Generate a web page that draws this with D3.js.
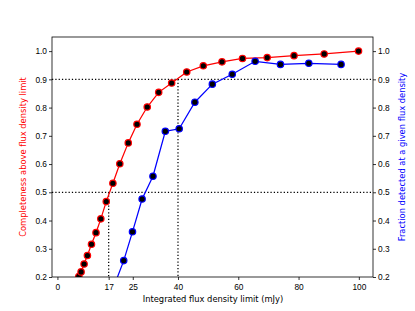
<!DOCTYPE html>
<html>
<head>
<meta charset="utf-8">
<script src="https://cdn.jsdelivr.net/npm/d3@7"></script>
<style>
    body { margin: 0; background: #fff; }
    svg { display: block; font-family: "DejaVu Sans", sans-serif; }
    .tick text { font-size: 8.33px; fill: #000; }
</style>
</head>
<body>
<div id="chart"></div>
<script>
// Completeness above flux density limit (red); first point sits below the axis
const completenessFlux = [5.8, 7.1, 7.85, 8.85, 9.95, 11.3, 12.8, 14.4, 16.2, 18.4, 20.7, 23.5, 26.4, 29.8, 33.6, 37.9, 42.9, 48.4, 54.6, 61.4, 69.6, 78.5, 88.5, 99.9];
const completenessValues = [0.17, 0.202, 0.218, 0.246, 0.276, 0.316, 0.357, 0.406, 0.467, 0.532, 0.601, 0.675, 0.741, 0.802, 0.854, 0.887, 0.926, 0.948, 0.962, 0.974, 0.977, 0.984, 0.99, 1.0];

// Fraction detected at a given flux density (blue); first point sits below the axis
const fractionFlux = [18.5, 22.0, 24.9, 28.1, 31.7, 35.8, 40.4, 45.6, 51.4, 58.0, 65.6, 74.0, 83.4, 94.1];
const fractionValues = [0.16, 0.258, 0.36, 0.476, 0.557, 0.716, 0.725, 0.819, 0.883, 0.918, 0.964, 0.953, 0.957, 0.953];

const xTicks = [0, 17, 25, 40, 60, 80, 100];
const yTicks = [0.2, 0.3, 0.4, 0.5, 0.6, 0.7, 0.8, 0.9, 1.0];

// reference guides: [flux, level]
const guideFlux = [17, 40];
const guideLevels = [0.5, 0.9];

const width = 415, height = 311;
const margin = { top: 37, right: 42, bottom: 34, left: 52 };
const innerW = width - margin.left - margin.right;
const innerH = height - margin.top - margin.bottom;

const svg = d3.select('#chart')
    .append('svg')
    .attr('width', width)
    .attr('height', height);

svg.append('defs').append('clipPath')
    .attr('id', 'plot-clip')
    .append('rect')
    .attr('width', innerW)
    .attr('height', innerH);

const g = svg.append('g')
    .attr('transform', `translate(${margin.left},${margin.top})`);

const x = d3.scaleLinear().domain([-1.8, 104.7]).range([0, innerW]);
const y = d3.scaleLinear().domain([0.2, 1.05]).range([innerH, 0]);

const plot = g.append('g').attr('clip-path', 'url(#plot-clip)');

// dotted guide lines
const dotted = '1.25,2.06';
guideLevels.forEach((lvl, i) => {
    plot.append('line')
        .attr('x1', 0).attr('x2', innerW)
        .attr('y1', y(lvl)).attr('y2', y(lvl))
        .attr('stroke', '#000').attr('stroke-width', 1.25)
        .attr('stroke-dasharray', dotted);
    plot.append('line')
        .attr('x1', x(guideFlux[i])).attr('x2', x(guideFlux[i]))
        .attr('y1', y(lvl)).attr('y2', innerH)
        .attr('stroke', '#000').attr('stroke-width', 1.25)
        .attr('stroke-dasharray', dotted);
});

function drawSeries(xs, ys, color) {
    const pts = xs.map((d, i) => [d, ys[i]]);
    const line = d3.line().x(d => x(d[0])).y(d => y(d[1]));
    plot.append('path')
        .datum(pts)
        .attr('d', line)
        .attr('fill', 'none')
        .attr('stroke', color)
        .attr('stroke-width', 1.25);
    plot.selectAll(null)
        .data(pts)
        .enter()
        .append('circle')
        .attr('cx', d => x(d[0]))
        .attr('cy', d => y(d[1]))
        .attr('r', 3.2)
        .attr('fill', '#000')
        .attr('stroke', color)
        .attr('stroke-width', 1.2);
}

drawSeries(completenessFlux, completenessValues, 'red');
drawSeries(fractionFlux, fractionValues, 'blue');

// axes
const xAxis = g.append('g')
    .attr('transform', `translate(0,${innerH})`)
    .call(d3.axisBottom(x).tickValues(xTicks).tickFormat(d3.format('d')).tickSizeOuter(0).tickSize(3));
const yLeft = g.append('g')
    .call(d3.axisLeft(y).tickValues(yTicks).tickFormat(d3.format('.1f')).tickSizeOuter(0).tickSize(3));
const yRight = g.append('g')
    .attr('transform', `translate(${innerW},0)`)
    .call(d3.axisRight(y).tickValues(yTicks).tickFormat(d3.format('.1f')).tickSizeOuter(0).tickSize(3));

[xAxis, yLeft, yRight].forEach(a => {
    a.select('.domain').remove();
    a.selectAll('.tick line').attr('stroke', '#000').attr('stroke-width', 0.8);
});
xAxis.selectAll('.tick text').attr('dy', '0.9em');
yLeft.selectAll('.tick text').attr('x', -5);
yRight.selectAll('.tick text').attr('x', 5);

// frame
g.append('rect')
    .attr('width', innerW)
    .attr('height', innerH)
    .attr('fill', 'none')
    .attr('stroke', '#000')
    .attr('stroke-width', 0.8);

// labels
svg.append('text')
    .attr('x', margin.left + innerW / 2 + 0.5)
    .attr('y', 302)
    .attr('text-anchor', 'middle')
    .style('font-size', '8.33px')
    .text('Integrated flux density limit (mJy)');

svg.append('text')
    .attr('transform', `translate(26,${margin.top + innerH / 2}) rotate(-90)`)
    .attr('text-anchor', 'middle')
    .style('font-size', '8.33px')
    .style('fill', 'red')
    .text('Completeness above flux density limit');

svg.append('text')
    .attr('transform', `translate(405,${margin.top + innerH / 2}) rotate(-90)`)
    .attr('text-anchor', 'middle')
    .style('font-size', '8.33px')
    .style('fill', 'blue')
    .text('Fraction detected at a given flux density');
</script>
</body>
</html>
